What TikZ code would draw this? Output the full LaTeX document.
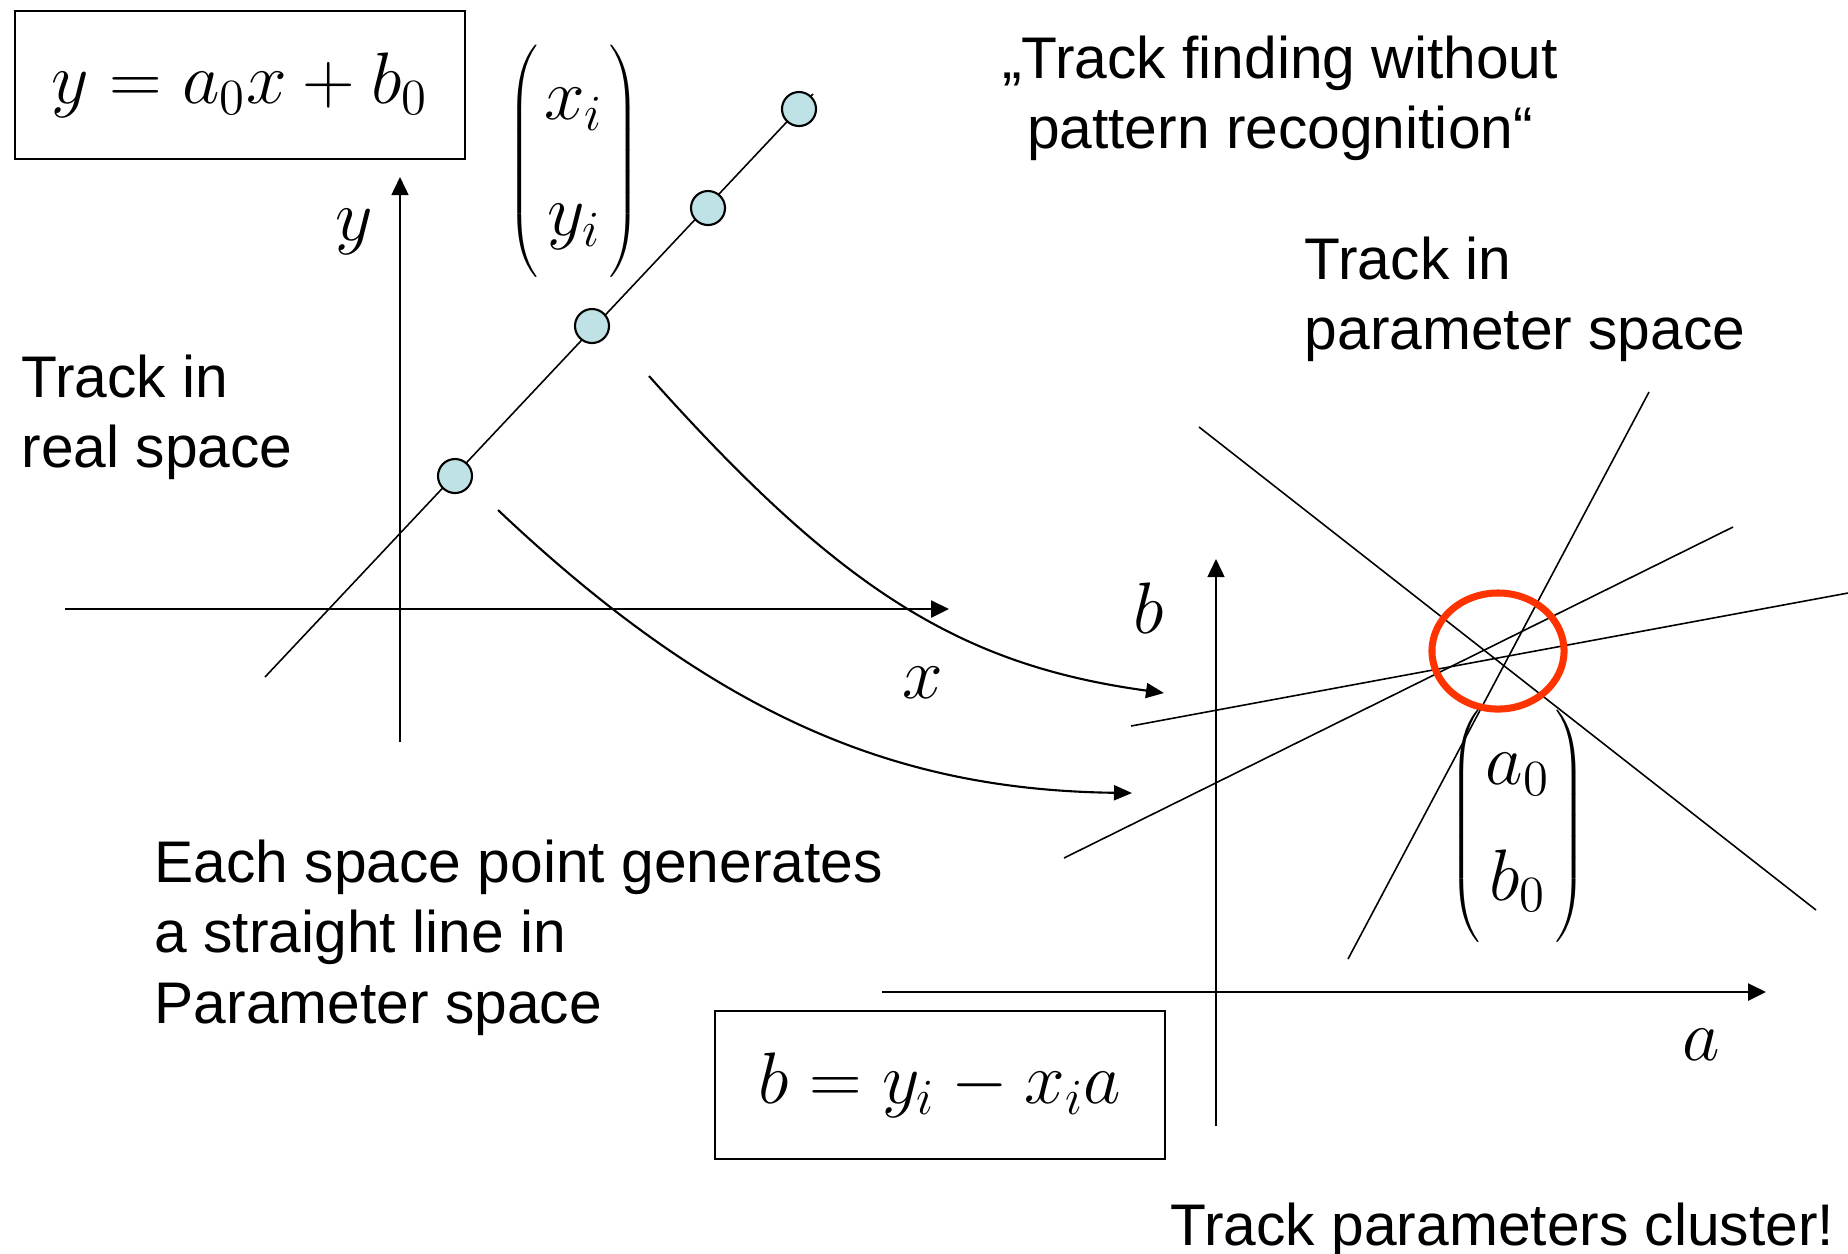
\documentclass[tikz,border=0pt]{standalone}
\usepackage{amsmath}
\usepackage{fontspec}
\setmainfont{Liberation Sans}
\usepackage{tikz}
\usetikzlibrary{arrows.meta,positioning,calc}

\definecolor{hitcol}{RGB}{190,226,229}
\definecolor{clustercol}{RGB}{255,51,0}

% column vector with thin tall parentheses
\newcommand{\colvec}[2]{{\fontsize{10}{12}\selectfont\delimitershortfall=-8pt$\left(\,\vcenter{\hbox{\fontsize{20}{24}\selectfont$\begin{array}{@{}c@{}} #1\\[9pt] #2\end{array}$}}\,\right)$}}

\begin{document}
\begin{tikzpicture}[
    x=0.01cm, y=-0.01cm,
    txt/.style={inner sep=0pt, align=left, font=\fontsize{16.7}{20.1}\selectfont},
    eqbox/.style={rectangle, draw, line width=0.7pt, minimum width=4.5cm, minimum height=1.48cm, font=\fontsize{20}{24}\selectfont},
    mathlbl/.style={inner sep=0pt, font=\fontsize{20}{24}\selectfont},
    hit/.style={circle, draw, line width=0.6pt, fill=hitcol, minimum size=0.34cm, inner sep=0pt},
    axis/.style={-{Triangle[length=0.18cm,width=0.17cm]}, line width=0.7pt},
    trk/.style={line width=0.45pt},
    arrow/.style={-{Triangle[length=0.18cm,width=0.15cm]}, line width=0.6pt}
]
    \useasboundingbox (0,0) rectangle (1848,1253);

    % real space
    \node[eqbox] (trackeq) at (240,85) {$y = a_0x + b_0$};
    \node[inner sep=0pt] (hitvec) at (574,161) {\colvec{x_i}{y_i}};

    \coordinate (yorig) at (400,742);
    \coordinate (ytip) at (400,177);
    \coordinate (xorig) at (65,609);
    \coordinate (xtip) at (949,609);
    \draw[axis, line width=0.45pt] (yorig) -- (ytip);
    \draw[axis] (xorig) -- (xtip);
    \node[mathlbl] (ylbl) at (354,232) {$y$};
    \node[mathlbl] (xlbl) at (923,683) {$x$};

    \coordinate (tstart) at (265,677);
    \coordinate (tend) at (813,94);
    \draw[trk] (tstart) -- (tend);
    \foreach \px/\py [count=\i] in {455/476, 592/326, 708/208, 799/109}
        \node[hit] (hit\i) at (\px,\py) {};

    \node[txt, anchor=north west] (realtxt) at (21,354) {Track in\\real space};
    \node[txt, anchor=north, align=center] (titletxt) at (1280,35) {„Track finding without\\pattern recognition“};
    \node[txt, anchor=north west] (paramtxt) at (1304,236) {Track in\\parameter space};
    \node[txt, anchor=north west] (eachtxt) at (154,839) {Each space point generates\\a straight line in\\Parameter space};
    \node[txt, anchor=north west] (clustertxt) at (1170,1202) {Track parameters cluster!};

    % mapping arrows
    \coordinate (from1) at (649,376);
    \coordinate (to1) at (1164,693);
    \coordinate (from2) at (498,510);
    \coordinate (to2) at (1132,793);
    \draw[arrow] (from1) .. controls (840,590) and (960,665) .. (to1);
    \draw[arrow] (from2) .. controls (720,720) and (900,790) .. (to2);

    % parameter space
    \coordinate (borig) at (1216,1126);
    \coordinate (btip) at (1216,559);
    \coordinate (aorig) at (882,992);
    \coordinate (atip) at (1766,992);
    \draw[axis, line width=0.45pt] (borig) -- (btip);
    \draw[axis] (aorig) -- (atip);
    \node[mathlbl] (blbl) at (1149,608) {$b$};
    \node[mathlbl] (albl) at (1701,1045) {$a$};

    \foreach \ax/\ay/\bx/\by in {1199/427/1816/910, 1348/959/1649/392, 1064/858/1733/527, 1131/726/1848/593}
        \draw[trk] (\ax,\ay) -- (\bx,\by);

    \draw[clustercol, line width=2pt] (1498,651) ellipse [x radius=0.66cm, y radius=0.58cm];
    \node[inner sep=0pt] (parvec) at (1518,826) {\colvec{a_0}{b_0}};

    \node[eqbox] (lineeq) at (940,1085) {$b = y_i - x_i a$};
\end{tikzpicture}
\end{document}
